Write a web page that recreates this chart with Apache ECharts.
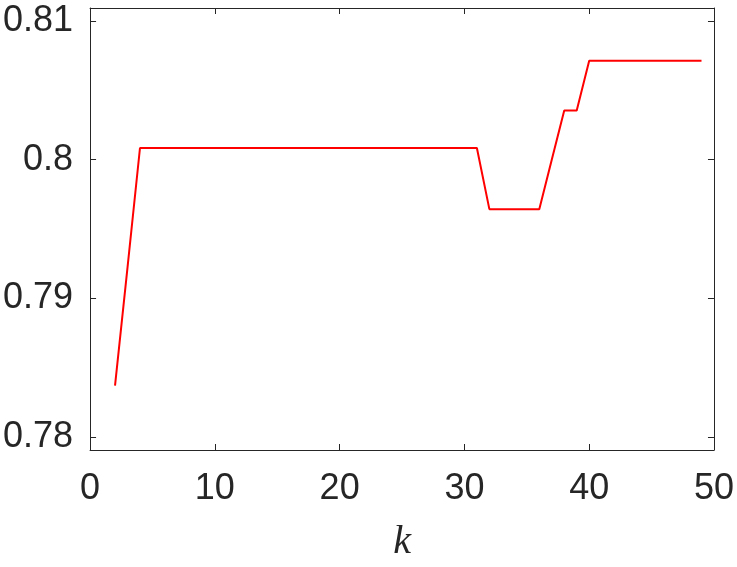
<!DOCTYPE html>
<html>
<head>
<meta charset="utf-8">
<script src="https://cdn.jsdelivr.net/npm/echarts@6/dist/echarts.min.js"></script>
<style>html,body{margin:0;padding:0;background:#fff}#c{width:737px;height:567px}</style>
</head>
<body>
<div id="c"></div>
<script>
const kValues = [2,3,4,5,6,7,8,9,10,11,12,13,14,15,16,17,18,19,20,21,22,23,24,25,26,27,28,29,30,31,32,33,34,35,36,37,38,39,40,41,42,43,44,45,46,47,48,49];
const scores = [0.78371,0.79222,0.80084,0.80084,0.80084,0.80084,0.80084,0.80084,0.80084,0.80084,0.80084,0.80084,0.80084,0.80084,0.80084,0.80084,0.80084,0.80084,0.80084,0.80084,0.80084,0.80084,0.80084,0.80084,0.80084,0.80084,0.80084,0.80084,0.80084,0.80084,0.79643,0.79643,0.79643,0.79643,0.79643,0.79999,0.80355,0.80355,0.80712,0.80712,0.80712,0.80712,0.80712,0.80712,0.80712,0.80712,0.80712,0.80712];
const yTicks = [0.78,0.79,0.80,0.81];
const xLabel = 'k';

const axisColor = '#262626';
const chart = echarts.init(document.getElementById('c'), null, {renderer:'canvas'});
const tickStyle = {show:true, inside:true, length:6, lineStyle:{color:axisColor, width:1}};
chart.setOption({
  animation:false,
  backgroundColor:'#fff',
  grid:{left:90, right:23, top:8, bottom:113, containLabel:false},
  xAxis:[{
    type:'value', min:0, max:50, interval:10, position:'bottom',
    axisLine:{show:true, onZero:false, lineStyle:{color:axisColor, width:1}},
    axisTick:tickStyle,
    splitLine:{show:false},
    axisLabel:{color:axisColor, fontSize:36, fontFamily:'Liberation Sans, Arial, sans-serif', margin:21},
    name:xLabel, nameLocation:'middle', nameGap:72,
    nameTextStyle:{color:axisColor, fontSize:40, fontStyle:'italic', fontFamily:'Liberation Serif, DejaVu Serif, serif'}
  },{
    type:'value', min:0, max:50, interval:10, position:'top',
    axisLine:{show:true, onZero:false, lineStyle:{color:axisColor, width:1}},
    axisTick:tickStyle, axisLabel:{show:false}, splitLine:{show:false}
  }],
  yAxis:[{
    type:'value', min:0.77907, max:0.81093, position:'left',
    axisLine:{show:true, onZero:false, lineStyle:{color:axisColor, width:1}},
    axisTick:Object.assign({customValues:yTicks}, tickStyle),
    splitLine:{show:false},
    axisLabel:{customValues:yTicks, color:axisColor, fontSize:36, fontFamily:'Liberation Sans, Arial, sans-serif', margin:17,
      formatter:v=>String(parseFloat(v.toFixed(2)))}
  },{
    type:'value', min:0.77907, max:0.81093, position:'right',
    axisLine:{show:true, onZero:false, lineStyle:{color:axisColor, width:1}},
    axisTick:Object.assign({customValues:yTicks}, tickStyle),
    axisLabel:{show:false}, splitLine:{show:false}
  }],
  series:[{
    type:'line', xAxisIndex:0, yAxisIndex:0,
    data:kValues.map((k,i)=>[k,scores[i]]),
    showSymbol:false, symbol:'none',
    lineStyle:{color:'#ff0000', width:2},
    itemStyle:{color:'#ff0000'}
  }]
});
</script>
</body>
</html>
